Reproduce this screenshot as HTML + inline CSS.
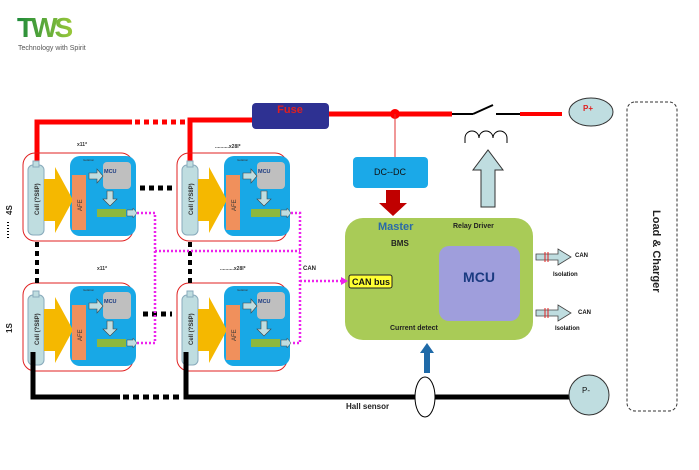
<!DOCTYPE html>
<html><head><meta charset="utf-8"><style>
body{margin:0;background:#fff;}
svg{display:block;font-family:"Liberation Sans",Arial,sans-serif;}
</style></head><body>
<svg width="699" height="470" viewBox="0 0 699 470" xmlns="http://www.w3.org/2000/svg">
<defs>
<linearGradient id="lg" x1="0" x2="1" y1="0" y2="0"><stop offset="0" stop-color="#1e8a3a"/><stop offset="1" stop-color="#9ac83a"/></linearGradient>
<g id="mod">
  <rect x="0" y="0" width="110" height="88" rx="12" fill="none" stroke="#e02020" stroke-width="1"/>
  <rect x="47" y="3" width="66" height="80" rx="10" fill="#18a8e6"/>
  <rect x="5" y="12" width="16" height="70" rx="5" fill="#bfdde0" stroke="#8ab" stroke-width="1"/>
  <rect x="10" y="8" width="6" height="6" fill="#bfdde0" stroke="#8ab"/>
  <text transform="translate(16,62) rotate(-90)" font-size="6" font-weight="bold" fill="#333">Cell (?S8P)</text>
  <polygon points="21,26 32,26 32,14 50,47 32,80 32,68 21,68" fill="#f5b800"/>
  <rect x="49" y="22" width="14" height="55" fill="#f0905c"/>
  <text transform="translate(59,58) rotate(-90)" font-size="6" fill="#333">AFE</text>
  <rect x="80" y="9" width="28" height="27" rx="4" fill="#bfbfbf"/>
  <text x="81" y="20" font-size="5.5" font-weight="bold" fill="#1a3a80">MCU</text>
  <polygon points="66,20 74,20 74,16 80,23 74,30 74,26 66,26" fill="#bfdde0" stroke="#444" stroke-width="0.6"/>
  <polygon points="84,38 90,38 90,46 94,46 87,53 80,46 84,46" fill="#bfdde0" stroke="#444" stroke-width="0.6"/>
  <rect x="74" y="56" width="29" height="8" fill="#8db83e"/>
  <polygon points="104,57 110,57 110,55 114,60 110,65 110,63 104,63" fill="#bfdde0" stroke="#444" stroke-width="0.5"/>
  <text x="60" y="8" font-size="3" fill="#333">Isolation</text>
</g>
</defs>

<!-- logo -->
<text x="17" y="37" font-size="28" font-weight="bold" fill="url(#lg)" letter-spacing="-3">TWS</text>
<text x="18" y="50" font-size="7" fill="#555">Technology with Spirit</text>

<!-- red top wire -->
<polyline points="37,168 37,122 132,122" fill="none" stroke="#ff0000" stroke-width="5"/>
<line x1="135" y1="122" x2="186" y2="122" stroke="#ff0000" stroke-width="5" stroke-dasharray="5,4"/>
<polyline points="190,168 190,120 254,120" fill="none" stroke="#ff0000" stroke-width="5"/>
<line x1="328" y1="114" x2="452" y2="114" stroke="#ff0000" stroke-width="5"/>
<circle cx="395" cy="114" r="5" fill="#ff0000"/>
<line x1="395" y1="114" x2="395" y2="158" stroke="#e03030" stroke-width="1"/>
<rect x="252" y="103" width="77" height="26" rx="4" fill="#2e3192"/>
<text x="290" y="113" font-size="11" font-weight="bold" fill="#e02020" text-anchor="middle">Fuse</text>
<!-- switch -->
<line x1="452" y1="114" x2="473" y2="114" stroke="#000" stroke-width="2"/>
<line x1="473" y1="114" x2="493" y2="105" stroke="#000" stroke-width="2"/>
<line x1="496" y1="114" x2="520" y2="114" stroke="#000" stroke-width="2"/>
<line x1="520" y1="114" x2="562" y2="114" stroke="#ff0000" stroke-width="4"/>
<ellipse cx="591" cy="112" rx="22" ry="14" fill="#bfdde0" stroke="#333" stroke-width="1"/>
<text x="583" y="111" font-size="8" font-weight="bold" fill="#e02020">P+</text>
<path d="M465,143 v-5 a7,7 0 0 1 14,0 a7,7 0 0 1 14,0 a7,7 0 0 1 14,0 v5" fill="none" stroke="#000" stroke-width="1"/>
<polygon points="481,207 495,207 495,170 503,170 488,150 473,170 481,170" fill="#bfdde0" stroke="#333" stroke-width="1"/>

<!-- DC-DC -->
<rect x="353" y="157" width="75" height="31" rx="4" fill="#1ba9e8"/>
<text x="390" y="175" font-size="9" fill="#111" text-anchor="middle">DC--DC</text>
<polygon points="386,190 400,190 400,203 407,203 393,216 379,203 386,203" fill="#c00000"/>

<!-- master -->
<rect x="345" y="218" width="188" height="122" rx="18" fill="#a9cb57"/>
<text x="378" y="230" font-size="11" font-weight="bold" fill="#2a6aa8">Master</text>
<text x="453" y="228" font-size="7" font-weight="bold" fill="#222">Relay Driver</text>
<text x="391" y="246" font-size="8" font-weight="bold" fill="#222">BMS</text>
<rect x="439" y="246" width="81" height="75" rx="10" fill="#9f9edc"/>
<text x="479" y="282" font-size="14" font-weight="bold" fill="#1a3a80" text-anchor="middle">MCU</text>
<rect x="349" y="275" width="43" height="13" rx="2" fill="#ffff33" stroke="#222" stroke-width="1"/>
<text x="352" y="285" font-size="9" font-weight="bold" fill="#111">CAN bus</text>
<text x="390" y="330" font-size="7" font-weight="bold" fill="#222">Current detect</text>

<!-- isolation arrows -->
<g id="iso">
<polygon points="536,254 558,254 558,249 571,257 558,265 558,260 536,260" fill="#bfdde0" stroke="#444" stroke-width="0.8"/>
<line x1="545" y1="252" x2="545" y2="262" stroke="#e02020"/>
<line x1="548" y1="252" x2="548" y2="262" stroke="#e02020"/>
</g>
<use href="#iso" y="56"/>
<text x="575" y="257" font-size="6" font-weight="bold" fill="#111">CAN</text>
<text x="553" y="276" font-size="6" font-weight="bold" fill="#111">Isolation</text>
<text x="578" y="314" font-size="6" font-weight="bold" fill="#111">CAN</text>
<text x="555" y="330" font-size="6" font-weight="bold" fill="#111">Isolation</text>

<!-- load -->
<rect x="627" y="102" width="50" height="309" rx="8" fill="none" stroke="#333" stroke-width="1" stroke-dasharray="3,2"/>
<text transform="translate(653,210) rotate(90)" font-size="11" font-weight="bold" fill="#222">Load &amp; Charger</text>

<!-- modules -->
<use href="#mod" x="23" y="153"/>
<use href="#mod" x="177" y="153"/>
<use href="#mod" x="23" y="283"/>
<use href="#mod" x="177" y="283"/>
<text x="77" y="146" font-size="5" font-weight="bold" fill="#333">x11*</text>
<text x="215" y="148" font-size="5" font-weight="bold" fill="#333">..........x28I*</text>
<text x="97" y="270" font-size="5" font-weight="bold" fill="#333">x11*</text>
<text x="220" y="270" font-size="5" font-weight="bold" fill="#333">..........x28I*</text>
<line x1="140" y1="188" x2="172" y2="188" stroke="#000" stroke-width="5" stroke-dasharray="5,4"/>
<line x1="143" y1="314" x2="172" y2="314" stroke="#000" stroke-width="5" stroke-dasharray="5,4"/>
<line x1="37" y1="242" x2="37" y2="287" stroke="#000" stroke-width="4" stroke-dasharray="5,4"/>
<line x1="190" y1="242" x2="190" y2="287" stroke="#000" stroke-width="4" stroke-dasharray="5,4"/>
<text transform="translate(12,215) rotate(-90)" font-size="8" font-weight="bold" fill="#222">4S</text>
<line x1="8" y1="222" x2="8" y2="240" stroke="#000" stroke-width="2" stroke-dasharray="1,2"/>
<text transform="translate(12,333) rotate(-90)" font-size="8" font-weight="bold" fill="#222">1S</text>

<!-- magenta -->
<g fill="none" stroke="#ee22ee" stroke-width="2.5" stroke-dasharray="2,2">
<polyline points="137,213 155,213 155,343 137,343"/>
<line x1="155" y1="251" x2="300" y2="251"/>
<polyline points="291,213 300,213 300,343 291,343"/>
<line x1="300" y1="281" x2="342" y2="281"/>
</g>
<polygon points="341,277 348,281 341,285" fill="#ee22ee"/>
<text x="303" y="270" font-size="6" font-weight="bold" fill="#222">CAN</text>

<!-- bottom wire -->
<polyline points="33,352 33,397 120,397" fill="none" stroke="#000" stroke-width="5"/>
<line x1="123" y1="397" x2="183" y2="397" stroke="#000" stroke-width="5" stroke-dasharray="6,4"/>
<polyline points="186,352 186,397 416,397" fill="none" stroke="#000" stroke-width="5"/>
<line x1="434" y1="397" x2="570" y2="397" stroke="#000" stroke-width="5"/>
<ellipse cx="425" cy="397" rx="10" ry="20" fill="#fff" stroke="#000" stroke-width="1"/>
<text x="346" y="409" font-size="8" font-weight="bold" fill="#222">Hall sensor</text>
<circle cx="589" cy="395" r="20" fill="#bfdde0" stroke="#333" stroke-width="1"/>
<text x="582" y="393" font-size="8" fill="#111">P-</text>
<polygon points="424,373 430,373 430,353 434,353 427,343 420,353 424,353" fill="#1f6aa8"/>
</svg>
</body></html>
